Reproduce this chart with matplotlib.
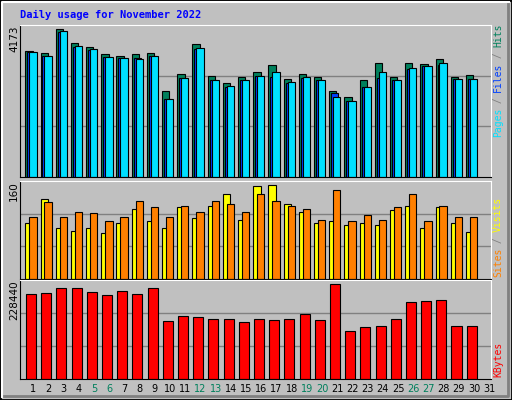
import numpy as np
import matplotlib.pyplot as plt
from matplotlib.patches import Rectangle

days = list(range(1, 32))
weekend = [5, 6, 12, 13, 19, 20, 26, 27]

hits = [3467, 3393, 4054, 3668, 3558, 3366, 3311, 3366, 3393, 2348, 2815, 3641, 2760, 2568, 2733,
        2871, 3063, 2678, 2815, 2733, 2348, 2183, 2650, 3118, 2733, 3118, 3091, 3228, 2733, 2788]
files = [3421, 3311, 3971, 3558, 3485, 3283, 3256, 3256, 3311, 2128, 2705, 3503, 2650, 2458, 2650,
         2760, 2733, 2568, 2705, 2650, 2293, 2100, 2458, 2705, 2650, 2953, 3036, 3063, 2678, 2678]
pages = [3421, 3311, 3999, 3586, 3503, 3283, 3256, 3228, 3311, 2155, 2705, 3531, 2650, 2485, 2650,
         2760, 2871, 2595, 2733, 2650, 2210, 2100, 2458, 2871, 2650, 2981, 3036, 3118, 2678, 2678]
sites = [92, 130, 84, 78, 83, 75, 91, 114, 94, 83, 118, 99, 120, 139, 97,
         152, 154, 122, 109, 91, 94, 88, 92, 88, 112, 120, 84, 117, 91, 76]
visits = [101, 126, 101, 110, 107, 94, 101, 128, 117, 102, 120, 109, 128, 123, 110,
          139, 128, 120, 114, 97, 146, 94, 105, 96, 117, 139, 94, 120, 102, 102]
kbytes = [196150, 198450, 210000, 210000, 200760, 193840, 203070, 196150, 210000, 133840,
          145380, 143070, 138460, 138460, 131530, 138460, 136150, 138460, 150000, 136150,
          219230, 110770, 120000, 122300, 138460, 177690, 180000, 182300, 122300, 122300]

max_hits, max_visits, max_kb = 4173, 160, 228440

BG = '#C0C0C0'
W, H = 512, 400
fig = plt.figure(figsize=(W / 100, H / 100), dpi=100, facecolor=BG)

# bevelled border
fig.add_artist(Rectangle((0, 0), 1, 1, transform=fig.transFigure, fill=False, ec='black', lw=2))
fig.add_artist(plt.Line2D([2 / W, 2 / W, 1 - 3 / W], [3 / H, 1 - 2 / H, 1 - 2 / H],
                          transform=fig.transFigure, color='white', lw=1.5))
fig.add_artist(plt.Line2D([4 / W, 1 - 4 / W, 1 - 4 / W], [4 / H, 4 / H, 1 - 4 / H],
                          transform=fig.transFigure, color='#808080', lw=2))


def panel(top, bottom):
    ax = fig.add_axes([20 / W, (H - bottom) / H, 471 / W, (bottom - top) / H])
    ax.set_facecolor(BG)
    ax.set_xlim(0, 31)
    ax.set_xticks([])
    ax.set_yticks([])
    for s in ['left', 'bottom']:
        ax.spines[s].set_color('black')
    for s in ['top', 'right']:
        ax.spines[s].set_color('white')
    return ax


x = np.arange(30)
mono = 'DejaVu Sans Mono'

ax1 = panel(25, 177)
ax1.set_ylim(0, max_hits)
for g in [1 / 3, 2 / 3]:
    ax1.axhline(max_hits * g, color='#808080', lw=1, zorder=0)
ax1.bar(x + 0.35, hits, width=0.48, align='edge', color='#00805C', ec='black', lw=0.8)
ax1.bar(x + 0.48, files, width=0.48, align='edge', color='#0040FF', ec='black', lw=0.8)
ax1.bar(x + 0.61, pages, width=0.48, align='edge', color='#00E0FF', ec='black', lw=0.8)

ax2 = panel(181, 279)
ax2.set_ylim(0, max_visits)
for g in [1 / 3, 2 / 3]:
    ax2.axhline(max_visits * g, color='#808080', lw=1, zorder=0)
ax2.bar(x + 0.35, sites, width=0.48, align='edge', color='#FFFF00', ec='black', lw=0.8)
ax2.bar(x + 0.61, visits, width=0.48, align='edge', color='#FF8000', ec='black', lw=0.8)

ax3 = panel(280, 379)
ax3.set_ylim(0, max_kb)
for g in [1 / 3, 2 / 3]:
    ax3.axhline(max_kb * g, color='#808080', lw=1, zorder=0)
ax3.bar(x + 0.4, kbytes, width=0.66, align='edge', color='#FF0000', ec='black', lw=0.8)

# day labels
for d in days:
    c = '#00805C' if d in weekend else 'black'
    fig.text((20 + (d - 1) * 15.2 + 13.3) / W, 1 - 389 / H, str(d), ha='center', va='center',
             fontsize=7, color=c, family='DejaVu Sans')

fig.text(20 / W, 1 - 15 / H, 'Daily usage for November 2022', color='#0000FF', fontsize=7.5,
         fontweight='bold', family=mono, va='center')

# max labels
for txt, ytop in [(str(max_hits), 25), (str(max_visits), 181), (str(max_kb), 280)]:
    fig.text(14 / W, 1 - ytop / H, txt, rotation=90, ha='center', va='top', fontsize=7.5,
             family='DejaVu Sans')


def side(parts, ybottom):
    y = ybottom
    for t, c in parts:
        tx = fig.text(498 / W, 1 - y / H, t, rotation=90, ha='center', va='bottom',
                      fontsize=7, color=c, family=mono)
        y -= len(t) * 5.6


side([('Pages', '#00E0FF'), (' / ', '#808080'), ('Files', '#0040FF'), (' / ', '#808080'),
      ('Hits', '#00805C')], 137)
side([('Sites', '#FF8000'), (' / ', '#808080'), ('Visits', '#FFFF00')], 277)
side([('KBytes', '#FF0000')], 377)

fig.savefig('out.png', dpi=100, facecolor=BG)
